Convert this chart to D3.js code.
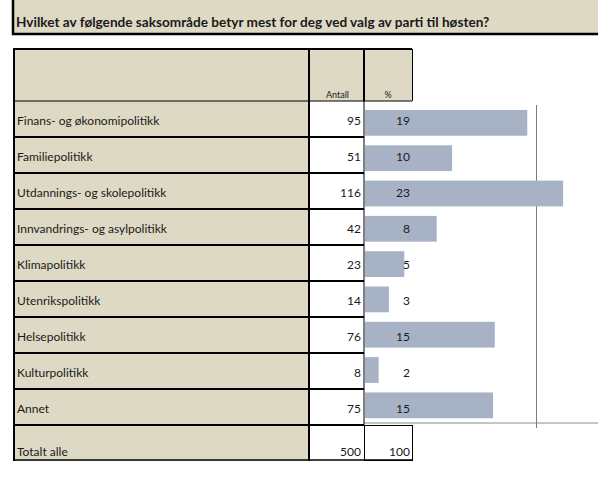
<!DOCTYPE html>
<html>
<head>
<meta charset="utf-8">
<script src="https://d3js.org/d3.v7.min.js"></script>
<style>
	body { margin: 0; background: #ffffff; }
	text { font-family: Lato, "Open Sans", sans-serif; fill: #1a1a1a; }
</style>
</head>
<body>
<div id="chart-area"></div>
<script>
/*
*    Hvilket av følgende saksområde betyr mest ...
*    table on the left, bars for the % column on the right
*/

var title = "Hvilket av følgende saksområde betyr mest for deg ved valg av parti til høsten?";

var categories = [
	"Finans- og økonomipolitikk",
	"Familiepolitikk",
	"Utdannings- og skolepolitikk",
	"Innvandrings- og asylpolitikk",
	"Klimapolitikk",
	"Utenrikspolitikk",
	"Helsepolitikk",
	"Kulturpolitikk",
	"Annet"
];

var antall = [95, 51, 116, 42, 23, 14, 76, 8, 75];

// rounded % shown in the table cells
var prosent = [19, 10, 23, 8, 5, 3, 15, 2, 15];

// bar lengths (unrounded share)
var andel = [19.0, 10.2, 23.2, 8.4, 4.6, 2.8, 15.2, 1.6, 15.0];

var totalLabel = "Totalt alle";
var totalAntall = 500;
var totalProsent = 100;

var headers = ["Antall", "%"];
var gridTicks = [20];

var width = 598;
var height = 478;

var beige = "#ddd9c4";
var barColor = "#a7b3c5";
var fontSize = "12px";

var svg = d3.select("#chart-area").append("svg")
	.attr("width", width)
	.attr("height", height);

// ---- title box ----
svg.append("rect")
	.attr("x", 13).attr("y", -2)
	.attr("width", width).attr("height", 36)
	.attr("fill", beige)
	.attr("stroke", "#000").attr("stroke-width", 2.5);

svg.append("text")
	.attr("x", 16).attr("y", 27)
	.style("font-size", "13.6px")
	.style("font-weight", "bold")
	.text(title);

// ---- table columns ----
var colLabel = 14, colAntall = 309, colPct = 364, colEnd = 412;
var tableTop = 49, headerBottom = 101;

var y = d3.scaleBand()
	.domain(categories)
	.range([headerBottom, headerBottom + 36 * categories.length]);

var totalTop = y.range()[1];
var totalBottom = totalTop + 36;

// header row
svg.append("rect")
	.attr("x", colLabel).attr("y", tableTop)
	.attr("width", colEnd - colLabel).attr("height", headerBottom - tableTop)
	.attr("fill", beige);

svg.selectAll(".hdr")
	.data(headers)
	.enter().append("text")
		.attr("class", "hdr")
		.attr("x", function(d, i){ return i == 0 ? (colAntall + colPct) / 2 + 1 : (colPct + colEnd) / 2; })
		.attr("y", 98)
		.attr("text-anchor", "middle")
		.style("font-size", "9px")
		.text(function(d){ return d; });

// label column background (data rows + total)
svg.append("rect")
	.attr("x", colLabel).attr("y", headerBottom)
	.attr("width", colAntall - colLabel).attr("height", totalBottom - headerBottom)
	.attr("fill", beige);

// ---- chart part in the % column ----
var x = d3.scaleLinear()
	.domain([0, 20])
	.range([365, 535.8]);

var yBar = d3.scaleBand()
	.domain(categories)
	.range([105.2, 423])
	.paddingInner(0.27)
	.paddingOuter(0.135);

svg.append("line")
	.attr("x1", colPct).attr("x2", width)
	.attr("y1", 423).attr("y2", 423)
	.attr("stroke", "#8c8c8c").attr("stroke-width", 1);

svg.selectAll(".grid")
	.data(gridTicks)
	.enter().append("line")
		.attr("class", "grid")
		.attr("x1", function(d){ return Math.round(x(d)) + 0.5; })
		.attr("x2", function(d){ return Math.round(x(d)) + 0.5; })
		.attr("y1", 105).attr("y2", 428)
		.attr("stroke", "#7a7a7a").attr("stroke-width", 1);

svg.selectAll(".bar")
	.data(andel)
	.enter().append("rect")
		.attr("class", "bar")
		.attr("x", x(0))
		.attr("y", function(d, i){ return yBar(categories[i]); })
		.attr("width", function(d){ return x(d) - x(0); })
		.attr("height", yBar.bandwidth())
		.attr("fill", barColor);

// ---- table texts ----
svg.selectAll(".lbl")
	.data(categories)
	.enter().append("text")
		.attr("class", "lbl")
		.attr("x", 17)
		.attr("y", function(d){ return y(d) + 24; })
		.style("font-size", fontSize)
		.text(function(d){ return d; });

svg.selectAll(".ant")
	.data(antall)
	.enter().append("text")
		.attr("class", "ant")
		.attr("x", colPct - 3)
		.attr("y", function(d, i){ return y(categories[i]) + 24; })
		.attr("text-anchor", "end")
		.style("font-size", fontSize)
		.text(function(d){ return d; });

svg.selectAll(".pct")
	.data(prosent)
	.enter().append("text")
		.attr("class", "pct")
		.attr("x", colEnd - 2)
		.attr("y", function(d, i){ return y(categories[i]) + 24; })
		.attr("text-anchor", "end")
		.style("font-size", fontSize)
		.text(function(d){ return d; });

// total row
svg.append("text")
	.attr("x", 17).attr("y", totalBottom - 5)
	.style("font-size", fontSize)
	.text(totalLabel);
svg.append("text")
	.attr("x", colPct - 3).attr("y", totalBottom - 5)
	.attr("text-anchor", "end")
	.style("font-size", fontSize)
	.text(totalAntall);
svg.append("text")
	.attr("x", colEnd - 2).attr("y", totalBottom - 5)
	.attr("text-anchor", "end")
	.style("font-size", fontSize)
	.text(totalProsent);

// ---- borders ----
var rowLines = categories.map(function(d){ return y(d) + y.bandwidth(); });

// thick lines between rows (label + antall columns)
svg.selectAll(".rowline")
	.data(rowLines)
	.enter().append("line")
		.attr("class", "rowline")
		.attr("x1", colLabel).attr("x2", colPct)
		.attr("y1", function(d){ return d; })
		.attr("y2", function(d){ return d; })
		.attr("stroke", "#000").attr("stroke-width", 2);

// under header
svg.append("line")
	.attr("x1", colLabel).attr("x2", colEnd)
	.attr("y1", headerBottom).attr("y2", headerBottom)
	.attr("stroke", "#000").attr("stroke-width", 1);

// table top
svg.append("line")
	.attr("x1", colLabel - 1).attr("x2", colEnd)
	.attr("y1", tableTop).attr("y2", tableTop)
	.attr("stroke", "#000").attr("stroke-width", 2);

// vertical lines
svg.append("line")
	.attr("x1", colLabel).attr("x2", colLabel)
	.attr("y1", tableTop).attr("y2", totalBottom)
	.attr("stroke", "#000").attr("stroke-width", 2);
svg.append("line")
	.attr("x1", colAntall).attr("x2", colAntall)
	.attr("y1", tableTop).attr("y2", totalBottom)
	.attr("stroke", "#000").attr("stroke-width", 2);
svg.append("line")
	.attr("x1", colPct).attr("x2", colPct)
	.attr("y1", tableTop).attr("y2", headerBottom)
	.attr("stroke", "#000").attr("stroke-width", 2);
svg.append("line")
	.attr("x1", colPct).attr("x2", colPct)
	.attr("y1", headerBottom).attr("y2", totalTop)
	.attr("stroke", "#000").attr("stroke-width", 1);
svg.append("line")
	.attr("x1", colPct + 0.5).attr("x2", colPct + 0.5)
	.attr("y1", totalTop).attr("y2", totalBottom)
	.attr("stroke", "#000").attr("stroke-width", 1)
	.attr("stroke-dasharray", "4,2");
svg.append("line")
	.attr("x1", colEnd + 0.5).attr("x2", colEnd + 0.5)
	.attr("y1", tableTop).attr("y2", headerBottom)
	.attr("stroke", "#000").attr("stroke-width", 1);

// total % box
svg.append("rect")
	.attr("x", colPct + 0.5).attr("y", totalTop + 0.5)
	.attr("width", colEnd - colPct).attr("height", totalBottom - totalTop - 1)
	.attr("fill", "none")
	.attr("stroke", "#000").attr("stroke-width", 1);

// bottom of table
svg.append("line")
	.attr("x1", colLabel - 1).attr("x2", colEnd + 1)
	.attr("y1", totalBottom - 1).attr("y2", totalBottom - 1)
	.attr("stroke", "#000").attr("stroke-width", 1.5);
</script>
</body>
</html>
